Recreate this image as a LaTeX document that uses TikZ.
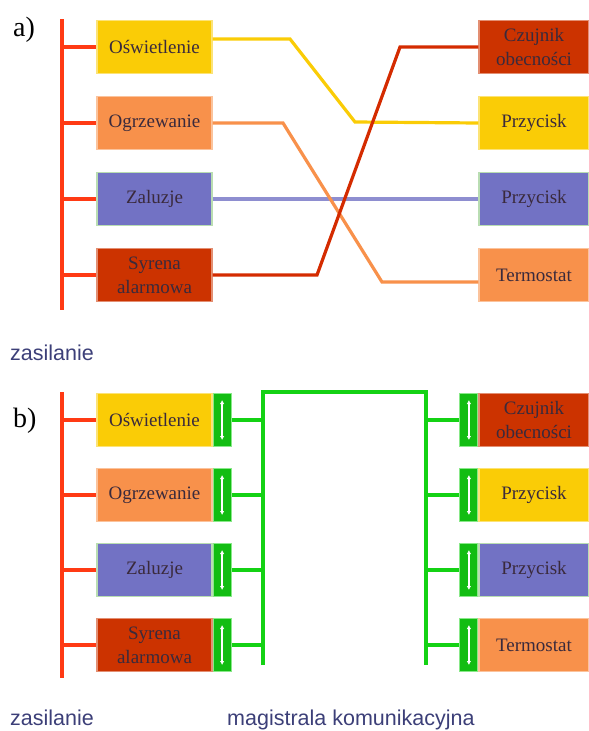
\documentclass[tikz,border=0pt]{standalone}
\usepackage{fontspec}
\setmainfont{Liberation Serif}
\newfontfamily\bezszer{Liberation Sans}
\usetikzlibrary{arrows.meta}

\definecolor{zolty}{HTML}{FACC06}
\definecolor{pomar}{HTML}{F8914B}
\definecolor{fiolet}{HTML}{7272C4}
\definecolor{ceglany}{HTML}{CC3300}
\definecolor{zasil}{HTML}{FF3A14}
\definecolor{ziel}{HTML}{14D214}
\definecolor{ramka}{HTML}{B9DDB2}
\definecolor{napis}{HTML}{3C3F78}
\definecolor{tekst}{HTML}{3A2A3C}

\begin{document}
\begin{tikzpicture}[x=1pt,y=-1pt,
    blok/.style={draw=#1!55!white,fill=#1,line width=1.2pt,minimum width=115pt,
      minimum height=53pt,inner sep=0pt,text=tekst,align=center,
      font=\fontsize{19}{24}\selectfont},
    blokp/.style={blok=#1,minimum width=110pt},
    zlacze/.style={draw=ziel!50!white,fill=ziel!90!black,line width=1pt,
      minimum width=18pt,minimum height=53pt,inner sep=0pt},
    strz/.style={white,line width=1.5pt,{Latex[length=4pt,width=4.5pt]}-{Latex[length=4pt,width=4.5pt]}},
    sila/.style={zasil,line width=3.2pt},
    magis/.style={ziel,line width=3.4pt},
    linia/.style={#1,line width=3.2pt},
    etykieta/.style={napis,inner sep=0pt,font=\bezszer\fontsize{21.5}{24}\selectfont},
    litera/.style={inner sep=0pt,font=\fontsize{28}{30}\selectfont}]
  \useasboundingbox (0,0) rectangle (589,731);

  % a)
  \node[litera,anchor=base west] (litA) at (13,36) {a)};
  \coordinate (aBusG) at (62,19);
  \coordinate (aBusD) at (62,310);
  \draw[sila] (aBusG) -- (aBusD);

  \node[blok=zolty] (aOsw) at (154.5,47) {Oświetlenie};
  \node[blok=pomar] (aOgrz) at (154.5,123) {Ogrzewanie};
  \node[blok=fiolet,draw=ramka] (aZal) at (154.5,199) {Zaluzje};
  \node[blok=ceglany] (aSyr) at (154.5,275) {Syrena\\alarmowa};

  \node[blokp=ceglany] (aCzuj) at (534,47) {Czujnik\\obecności};
  \node[blokp=zolty] (aPrz1) at (534,123) {Przycisk};
  \node[blokp=fiolet,draw=ramka] (aPrz2) at (534,199) {Przycisk};
  \node[blokp=pomar] (aTerm) at (534,275) {Termostat};

  \draw[sila] (aBusG |- aOsw.west) -- (aOsw.west);
  \draw[sila] (aBusG |- aOgrz.west) -- (aOgrz.west);
  \draw[sila] (aBusG |- aZal.west) -- (aZal.west);
  \draw[sila] (aBusG |- aSyr.west) -- (aSyr.west);

  \draw[linia=zolty] ([yshift=8pt]aOsw.east) -- (290,39) -- (355,122) -- (aPrz1.west);
  \draw[linia=fiolet!80!white] (aZal.east) -- (aPrz2.west);
  \draw[linia=pomar] (aOgrz.east) -- (283,123) -- (382,282) -- ([yshift=-7pt]aTerm.west);
  \draw[linia=ceglany!85!red] (aSyr.east) -- (317,275) -- (400,47) -- (aCzuj.west);

  \node[etykieta,anchor=base west] (zasA) at (10,360) {zasilanie};

  % b)
  \node[litera,anchor=base west] (litB) at (13,427) {b)};
  \coordinate (bBusG) at (62,392);
  \coordinate (bBusD) at (62,678);
  \draw[sila] (bBusG) -- (bBusD);

  \node[blok=zolty] (bOsw) at (154.5,420) {Oświetlenie};
  \node[blok=pomar] (bOgrz) at (154.5,495) {Ogrzewanie};
  \node[blok=fiolet,draw=ramka] (bZal) at (154.5,570) {Zaluzje};
  \node[blok=ceglany] (bSyr) at (154.5,645) {Syrena\\alarmowa};

  \node[blokp=ceglany] (bCzuj) at (534,420) {Czujnik\\obecności};
  \node[blokp=zolty] (bPrz1) at (534,495) {Przycisk};
  \node[blokp=fiolet,draw=ramka] (bPrz2) at (534,570) {Przycisk};
  \node[blokp=pomar] (bTerm) at (534,645) {Termostat};

  \node[zlacze,anchor=west] (bZOsw) at (bOsw.east) {};
  \node[zlacze,anchor=west] (bZOgrz) at (bOgrz.east) {};
  \node[zlacze,anchor=west] (bZZal) at (bZal.east) {};
  \node[zlacze,anchor=west] (bZSyr) at (bSyr.east) {};
  \node[zlacze,anchor=east] (bZCzuj) at (bCzuj.west) {};
  \node[zlacze,anchor=east] (bZPrz1) at (bPrz1.west) {};
  \node[zlacze,anchor=east] (bZPrz2) at (bPrz2.west) {};
  \node[zlacze,anchor=east] (bZTerm) at (bTerm.west) {};

  % strzalki w zlaczach
  \foreach \z in {bZOsw,bZOgrz,bZZal,bZSyr,bZCzuj,bZPrz1,bZPrz2,bZTerm}{
    \draw[black!60,line width=2.4pt] ([yshift=-12pt]\z.north) -- ([yshift=12pt]\z.south);
    \draw[strz] ([yshift=-7pt]\z.north) -- ([yshift=7pt]\z.south);
  }

  \draw[sila] (bBusG |- bOsw.west) -- (bOsw.west);
  \draw[sila] (bBusG |- bOgrz.west) -- (bOgrz.west);
  \draw[sila] (bBusG |- bZal.west) -- (bZal.west);
  \draw[sila] (bBusG |- bSyr.west) -- (bSyr.west);

  \coordinate (mag1) at (263,665);
  \coordinate (mag2) at (263,392);
  \coordinate (mag3) at (426,392);
  \coordinate (mag4) at (426,665);
  \draw[magis] (mag1) -- (mag2) -- (mag3) -- (mag4);

  \draw[magis] (bZOsw.east) -- (mag1 |- bZOsw.east);
  \draw[magis] (bZOgrz.east) -- (mag1 |- bZOgrz.east);
  \draw[magis] (bZZal.east) -- (mag1 |- bZZal.east);
  \draw[magis] (bZSyr.east) -- (mag1 |- bZSyr.east);
  \draw[magis] (mag4 |- bZCzuj.west) -- (bZCzuj.west);
  \draw[magis] (mag4 |- bZPrz1.west) -- (bZPrz1.west);
  \draw[magis] (mag4 |- bZPrz2.west) -- (bZPrz2.west);
  \draw[magis] (mag4 |- bZTerm.west) -- (bZTerm.west);

  \node[etykieta,anchor=base west] (zasB) at (10,725) {zasilanie};
  \node[etykieta,anchor=base west] (magB) at (227,725) {magistrala komunikacyjna};
\end{tikzpicture}
\end{document}
